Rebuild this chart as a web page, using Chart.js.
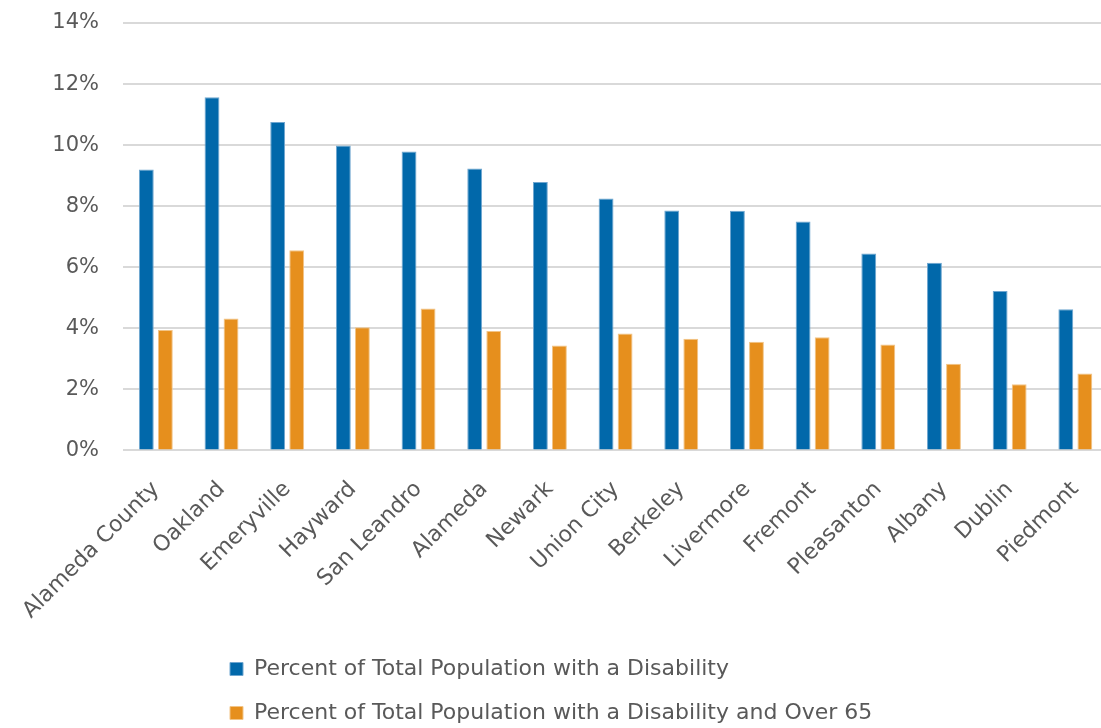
<!DOCTYPE html>
<html>
<head>
<meta charset="utf-8">
<script src="https://cdn.jsdelivr.net/npm/chart.js@4/dist/chart.umd.min.js"></script>
<style>
  html, body { margin: 0; padding: 0; background: #fff; overflow: hidden; }
  #wrap { position: relative; width: 1112px; height: 728px; }
</style>
</head>
<body>
<div id="wrap"><canvas id="disability_chart"></canvas></div>
<script>
"use strict";

// Chart data
var cities = ["Alameda County", "Oakland", "Emeryville", "Hayward", "San Leandro", "Alameda", "Newark", "Union City", "Berkeley", "Livermore", "Fremont", "Pleasanton", "Albany", "Dublin", "Piedmont"];
var withDisability = [9.20, 11.57, 10.76, 9.99, 9.79, 9.23, 8.79, 8.25, 7.86, 7.85, 7.50, 6.45, 6.15, 5.22, 4.62];
var withDisabilityOver65 = [3.94, 4.32, 6.56, 4.03, 4.65, 3.91, 3.44, 3.83, 3.66, 3.56, 3.71, 3.47, 2.84, 2.17, 2.52];
var seriesNames = ["Percent of Total Population with a Disability", "Percent of Total Population with a Disability and Over 65"];
var yTicks = [0, 2, 4, 6, 8, 10, 12, 14];

var textGray = "#595959";
var fontFamily = "'DejaVu Sans', sans-serif";

// put the legend rows under the plot, both starting at the same x
var legendPlacer = {
    id: "legendPlacer",
    afterLayout: function (chart) {
        chart.legend.left = 208;
        chart.legend.top = 636;
    }
};

var chartArea = document.getElementById("disability_chart");
var disabilityChart = new Chart(chartArea, {
    type: "bar",
    data: {
        labels: cities,
        datasets: [
            {
                label: seriesNames[0],
                backgroundColor: "#0168AA",
                borderColor: "#6FA6D0",
                borderWidth: 1,
                data: withDisability
            },
            {
                label: seriesNames[1],
                backgroundColor: "#E68F1D",
                borderColor: "#F2C487",
                borderWidth: 1,
                data: withDisabilityOver65
            }
        ]
    },
    options: {
        responsive: true,
        maintainAspectRatio: false,
        animation: false,
        layout: { padding: { top: 23, left: 0, right: 0, bottom: 0 } },
        datasets: { bar: { categoryPercentage: 0.58, barPercentage: 0.78 } },
        plugins: {
            tooltip: { enabled: false },
            legend: {
                position: "bottom",
                align: "start",
                labels: {
                    boxWidth: 13,
                    boxHeight: 13,
                    padding: 22,
                    color: textGray,
                    font: { family: fontFamily, size: 22 }
                }
            }
        },
        scales: {
            x: {
                grid: { display: false },
                border: { display: false },
                ticks: {
                    color: textGray,
                    font: { family: fontFamily, size: 22 },
                    minRotation: 45,
                    maxRotation: 45,
                    padding: 18,
                    autoSkip: false
                },
                afterFit: function (scale) {
                    scale.height = 728 - 450.4 - scale.chart.legend.height;
                }
            },
            y: {
                min: 0,
                max: 14,
                border: { display: false },
                grid: {
                    color: "#D9D9D9",
                    lineWidth: 2,
                    drawTicks: true,
                    tickLength: 22,
                    tickColor: "rgba(0,0,0,0)"
                },
                afterBuildTicks: function (scale) {
                    scale.ticks = yTicks.map(function (v) { return { value: v }; });
                },
                ticks: {
                    color: textGray,
                    font: { family: fontFamily, size: 21 },
                    padding: 2,
                    callback: function (v) { return v + "%"; }
                },
                afterFit: function (scale) {
                    scale.width = 123;
                }
            }
        }
    },
    plugins: [legendPlacer]
});
</script>
</body>
</html>
